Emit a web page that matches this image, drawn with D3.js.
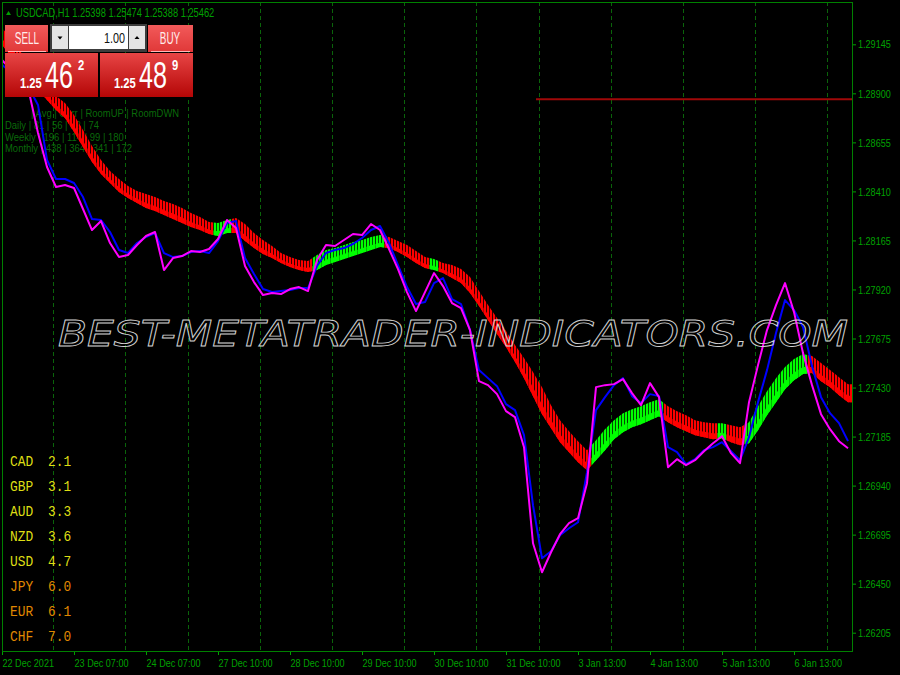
<!DOCTYPE html>
<html><head><meta charset="utf-8">
<script src="https://cdn.jsdelivr.net/npm/d3@7"></script>
<style>
html,body{margin:0;padding:0;background:#000;}
svg{display:block;}
</style></head><body>
<svg id="chart" width="900" height="675"></svg>
<script>
// ---------- DATA ----------
const headerSymbol = "USDCAD,H1";
const headerPrices = ["1.25398", "1.25474", "1.25388", "1.25462"];
const priceTicks = [1.29145, 1.28900, 1.28655, 1.28410, 1.28165, 1.27920, 1.27675, 1.27430, 1.27185, 1.26940, 1.26695, 1.26450, 1.26205];
const timeTickBars = [0, 24, 48, 72, 96, 120, 144, 168, 192, 216, 240, 264];
const timeTickLabels = ["22 Dec 2021", "23 Dec 07:00", "24 Dec 07:00", "27 Dec 10:00", "28 Dec 10:00", "29 Dec 10:00", "30 Dec 10:00", "31 Dec 10:00", "3 Jan 13:00", "4 Jan 13:00", "5 Jan 13:00", "6 Jan 13:00"];
const dayGridBars = [17, 41, 62, 86, 110, 134, 158, 179, 203, 227, 251, 275];
const totalBars = 283.33;
const sampleStep = 3; // one sample every 3 H1 bars

const magentaLine = [1.29067,1.29017,1.28967,1.28907,1.28702,1.28532,1.28432,1.28442,1.28427,1.28322,
 1.28217,1.28262,1.28152,1.28082,1.28092,1.28142,1.28187,1.28207,1.28017,1.28077,
 1.28087,1.28112,1.28107,1.28122,1.28172,1.28267,1.28227,1.28037,1.27957,1.27892,
 1.27902,1.27897,1.27922,1.27932,1.27912,1.28067,1.28142,1.28137,1.28167,1.28197,
 1.28192,1.28247,1.28217,1.28122,1.28022,1.27907,1.27812,1.27907,1.28002,1.27937,
 1.27852,1.27827,1.27717,1.27462,1.27442,1.27397,1.27312,1.27282,1.27132,1.26652,
 1.26507,1.26607,1.26697,1.26752,1.26777,1.26952,1.27432,1.27442,1.27447,1.27472,
 1.27402,1.27342,1.27452,1.27382,1.27032,1.27072,1.27042,1.27067,1.27112,1.27152,
 1.27187,1.27102,1.27052,1.27357,1.27542,1.27717,1.27842,1.27952,1.27807,1.27602,
 1.27442,1.27297,1.27222,1.27162,1.27127];

const blueLine = [1.29042,1.29007,1.28967,1.28927,1.28842,1.28567,1.28472,1.28472,1.28452,1.28382,
 1.28272,1.28267,1.28207,1.28117,1.28102,1.28152,1.28182,1.28202,1.28102,1.28082,
 1.28087,1.28107,1.28112,1.28102,1.28162,1.28252,1.28262,1.28077,1.27997,1.27922,
 1.27907,1.27912,1.27917,1.27927,1.27927,1.28037,1.28102,1.28117,1.28127,1.28147,
 1.28177,1.28217,1.28237,1.28152,1.28042,1.27932,1.27847,1.27857,1.27952,1.27977,
 1.27872,1.27847,1.27717,1.27517,1.27477,1.27437,1.27347,1.27317,1.27192,1.26842,
 1.26577,1.26612,1.26692,1.26727,1.26757,1.27007,1.27317,1.27382,1.27442,1.27477,
 1.27387,1.27352,1.27397,1.27387,1.27132,1.27107,1.27047,1.27072,1.27117,1.27132,
 1.27157,1.27112,1.27067,1.27182,1.27357,1.27517,1.27702,1.27867,1.27817,1.27732,
 1.27537,1.27382,1.27302,1.27252,1.27162];

const bandHigh = [1.29227,1.29177,1.29117,1.29057,1.28997,1.28942,1.28887,1.28852,1.28792,1.28717,
 1.28637,1.28567,1.28512,1.28472,1.28437,1.28412,1.28397,1.28382,1.28362,1.28347,
 1.28327,1.28302,1.28282,1.28257,1.28252,1.28267,1.28277,1.28247,1.28202,1.28167,
 1.28137,1.28102,1.28082,1.28067,1.28062,1.28092,1.28117,1.28127,1.28142,1.28157,
 1.28167,1.28182,1.28192,1.28182,1.28162,1.28142,1.28112,1.28082,1.28072,1.28052,
 1.28042,1.28022,1.27982,1.27912,1.27842,1.27777,1.27712,1.27642,1.27577,1.27507,
 1.27432,1.27342,1.27267,1.27212,1.27162,1.27117,1.27167,1.27222,1.27267,1.27302,
 1.27322,1.27337,1.27357,1.27372,1.27337,1.27312,1.27292,1.27267,1.27257,1.27252,
 1.27252,1.27242,1.27232,1.27257,1.27337,1.27412,1.27477,1.27532,1.27572,1.27597,
 1.27587,1.27552,1.27517,1.27482,1.27447];

const bandLow = [1.29142,1.29087,1.29027,1.28967,1.28917,1.28867,1.28817,1.28777,1.28707,1.28632,
 1.28557,1.28497,1.28452,1.28407,1.28377,1.28352,1.28327,1.28312,1.28292,1.28272,
 1.28252,1.28232,1.28217,1.28197,1.28187,1.28202,1.28202,1.28162,1.28127,1.28097,
 1.28077,1.28052,1.28032,1.28017,1.28007,1.28017,1.28042,1.28057,1.28072,1.28087,
 1.28102,1.28117,1.28132,1.28127,1.28107,1.28082,1.28052,1.28027,1.28017,1.28002,
 1.27977,1.27952,1.27902,1.27837,1.27767,1.27697,1.27632,1.27557,1.27477,1.27387,
 1.27297,1.27227,1.27157,1.27107,1.27057,1.27017,1.27067,1.27117,1.27172,1.27207,
 1.27232,1.27247,1.27267,1.27287,1.27257,1.27232,1.27212,1.27192,1.27182,1.27172,
 1.27177,1.27157,1.27142,1.27152,1.27217,1.27292,1.27357,1.27422,1.27467,1.27497,
 1.27502,1.27462,1.27432,1.27392,1.27357];

// 1 = rising (green), 0 = falling (red)
const bandRising = [0,0,0,0,0,0,0,0,0,0, 0,0,0,0,0,0,0,0,0,0, 0,0,0,0,1,1,0,0,0,0,
 0,0,0,0,0,1,1,1,1,1, 1,1,1,0,0,0,0,0,1,0, 0,0,0,0,0,0,0,0,0,0,
 0,0,0,0,0,0,1,1,1,1, 1,1,1,1,0,0,0,0,0,0, 1,0,0,1,1,1,1,1,1,1,
 0,0,0,0,0];

const levelPrice = 1.28870;
const levelStartBar = 178;

const currencies = ["CAD", "GBP", "AUD", "NZD", "USD", "JPY", "EUR", "CHF"];
const strengths = [2.1, 3.1, 3.3, 3.6, 4.7, 6.0, 6.1, 7.0];

const statsHeader = "| Avg | Curr | RoomUP | RoomDWN";
const statsPeriods = ["Daily", "Weekly", "Monthly"];
const statsValues = [[81, 56, 32, 74], [196, 114, 99, 180], [438, 364, 341, 172]];

const lotSize = "1.00";
const bidParts = ["1.25", "46", "2"];
const askParts = ["1.25", "48", "9"];
const watermark = "BEST-METATRADER-INDICATORS.COM";

// ---------- SETUP ----------
const svg = d3.select("#chart");
const W = 900, H = 675;
const pL = 2, pR = 852, pT = 2, pB = 651;
const sans = "'Liberation Sans',Arial,sans-serif";
const axisGreen = "#00a000";

// horizontally condense a text selection (simulates a narrow UI font)
function squeeze(sel, s) {
  sel.each(function () {
    const t = d3.select(this);
    const xv = +t.attr("x") || 0;
    t.attr("x", xv / s).attr("transform", `scale(${s},1)`);
  });
  return sel;
}

svg.append("rect").attr("width", W).attr("height", H).attr("fill", "#000");

const x = d3.scaleLinear().domain([0, totalBars]).range([pL, pR]);
const y = d3.scaleLinear().domain([1.26205, 1.29145]).range([632.7, 44.3]);

const defs = svg.append("defs");
defs.append("clipPath").attr("id", "plotClip").append("rect")
  .attr("x", pL).attr("y", pT).attr("width", pR - pL).attr("height", pB - pT);

function stripePattern(id, fg, bg) {
  const p = defs.append("pattern").attr("id", id).attr("patternUnits", "userSpaceOnUse")
    .attr("x", 1).attr("y", 0).attr("width", 3).attr("height", 6);
  p.append("rect").attr("width", 3).attr("height", 6).attr("fill", bg);
  p.append("rect").attr("width", 2).attr("height", 6).attr("fill", fg);
}
stripePattern("stripeRed", "#ff0000", "#3a0000");
stripePattern("stripeGreen", "#00ff00", "#005000");

function grad(id, c1, c2) {
  const g = defs.append("linearGradient").attr("id", id).attr("x1", 0).attr("y1", 0).attr("x2", 0).attr("y2", 1);
  g.append("stop").attr("offset", "0%").attr("stop-color", c1);
  g.append("stop").attr("offset", "100%").attr("stop-color", c2);
}
grad("btnGrad", "#f25a5a", "#e03838");
grad("priceGrad", "#e84545", "#b40606");

// ---------- GRID ----------
svg.append("g").selectAll("line").data(dayGridBars).join("line")
  .attr("x1", d => Math.round(x(d)) + 0.5).attr("x2", d => Math.round(x(d)) + 0.5)
  .attr("y1", pT).attr("y2", pB)
  .attr("stroke", "#0a640a").attr("stroke-width", 1).attr("stroke-dasharray", "4,3");

// ---------- STATS TEXT (under indicators) ----------
const stats = svg.append("g").attr("font-family", sans).attr("font-size", 11).attr("fill", "#0a6a0a");
squeeze(stats.append("text").attr("x", 31).attr("y", 117).text(statsHeader), 0.86);
statsPeriods.forEach((p, r) => {
  squeeze(stats.append("text").attr("x", 5).attr("y", 129 + r * 11.7)
    .text(p + " | " + statsValues[r].join(" | ")), 0.86);
});

// ---------- CURRENCY STRENGTH ----------
const cur = svg.append("g").attr("font-family", "'Liberation Mono','DejaVu Sans Mono',monospace").attr("font-size", 15);
currencies.forEach((c, i) => {
  const col = strengths[i] < 5 ? "#dede14" : "#e08800";
  squeeze(cur.append("text").attr("x", 10).attr("y", 466 + i * 25).attr("fill", col).text(c), 0.86);
  squeeze(cur.append("text").attr("x", 48).attr("y", 466 + i * 25).attr("fill", col).text(strengths[i].toFixed(1)), 0.86);
});

// ---------- PLOT ----------
const plot = svg.append("g").attr("clip-path", "url(#plotClip)");

const samples = magentaLine.map((m, k) => ({
  i: k * sampleStep, m, b: blueLine[k], hi: bandHigh[k], lo: bandLow[k], up: bandRising[k]
}));

const half = sampleStep / 2;
const bandArea = d3.area().x(d => x(d.i)).y0(d => y(d.lo)).y1(d => y(d.hi));
const solidArea = d3.area().x(d => x(d.i)).y0(d => y(d.lo)).y1(d => y(d.lo + (d.hi - d.lo) * 0.36));
const bandG = plot.append("g");
samples.forEach((s, k) => {
  const prev = samples[k - 1] || s, next = samples[k + 1] || s;
  const pts = [
    { i: s.i - half, hi: (prev.hi + s.hi) / 2, lo: (prev.lo + s.lo) / 2 },
    { i: s.i, hi: s.hi, lo: s.lo },
    { i: s.i + half, hi: (next.hi + s.hi) / 2, lo: (next.lo + s.lo) / 2 }
  ];
  bandG.append("path").attr("d", bandArea(pts))
    .attr("fill", s.up ? "url(#stripeGreen)" : "url(#stripeRed)");
  bandG.append("path").attr("d", solidArea(pts))
    .attr("fill", s.up ? "#00ff00" : "#ff0000");
});

// watermark
svg.append("text").attr("x", 58).attr("y", 346)
  .attr("font-family", "'DejaVu Sans',sans-serif").attr("font-style", "italic")
  .attr("font-size", 36).attr("textLength", 790).attr("lengthAdjust", "spacingAndGlyphs")
  .attr("fill", "none").attr("stroke", "#d0d0d0").attr("stroke-width", 0.9)
  .text(watermark);

const lineGen = key => d3.line().x(d => x(d.i)).y(d => y(d[key]));
plot.append("path").datum(samples).attr("d", lineGen("b"))
  .attr("fill", "none").attr("stroke", "#0000ff").attr("stroke-width", 2).attr("stroke-linejoin", "round");
plot.append("path").datum(samples).attr("d", lineGen("m"))
  .attr("fill", "none").attr("stroke", "#ff00ff").attr("stroke-width", 2).attr("stroke-linejoin", "round");

// horizontal level
plot.append("line").attr("x1", x(levelStartBar)).attr("x2", pR)
  .attr("y1", y(levelPrice)).attr("y2", y(levelPrice))
  .attr("stroke", "#a00808").attr("stroke-width", 2);

// ---------- AXES ----------
const yAxis = svg.append("g").attr("transform", `translate(${pR},0)`)
  .call(d3.axisRight(y).tickValues(priceTicks).tickSize(4).tickPadding(2).tickFormat(d3.format(".5f")));
yAxis.select(".domain").remove();
yAxis.selectAll("line").attr("stroke", axisGreen);
squeeze(yAxis.selectAll("text").attr("fill", axisGreen).attr("font-family", sans).attr("font-size", 11.5), 0.79);

const xAxis = svg.append("g").attr("transform", `translate(0,${pB})`)
  .call(d3.axisBottom(x).tickValues(timeTickBars).tickSize(4).tickFormat((d, i) => timeTickLabels[i]));
xAxis.select(".domain").remove();
xAxis.selectAll("line").attr("stroke", axisGreen);
squeeze(xAxis.selectAll("text").attr("fill", axisGreen).attr("font-family", sans).attr("font-size", 11.5)
  .attr("text-anchor", "start").attr("y", 16).attr("dy", 0).attr("x", 0), 0.79);

// frame
svg.append("rect").attr("x", pL + 0.5).attr("y", pT + 0.5)
  .attr("width", pR - pL).attr("height", pB - pT)
  .attr("fill", "none").attr("stroke", "#008000").attr("stroke-width", 1);

// ---------- HEADER ----------
svg.append("path").attr("d", "M6,15 L8.5,11 L11,15 Z").attr("fill", "#00a000");
squeeze(svg.append("text").attr("x", 16).attr("y", 17).attr("fill", axisGreen)
  .attr("font-family", sans).attr("font-size", 12)
  .text(headerSymbol + "  " + headerPrices.join(" ")), 0.775);

// ---------- TRADE PANEL ----------
const panel = svg.append("g");
panel.append("rect").attr("x", 5).attr("y", 25).attr("width", 43).attr("height", 27).attr("fill", "url(#btnGrad)");
panel.append("rect").attr("x", 148).attr("y", 25).attr("width", 45).attr("height", 27).attr("fill", "url(#btnGrad)");
panel.append("line").attr("x1", 8).attr("x2", 46).attr("y1", 51.5).attr("y2", 51.5).attr("stroke", "#ffb8b8");
panel.append("line").attr("x1", 151).attr("x2", 190).attr("y1", 51.5).attr("y2", 51.5).attr("stroke", "#ffb8b8");
squeeze(panel.append("text").attr("x", 27).attr("y", 44).attr("text-anchor", "middle").attr("fill", "#ffecec")
  .attr("font-family", sans).attr("font-size", 16).text("SELL"), 0.62);
squeeze(panel.append("text").attr("x", 170).attr("y", 44).attr("text-anchor", "middle").attr("fill", "#ffecec")
  .attr("font-family", sans).attr("font-size", 16).text("BUY"), 0.62);
panel.append("rect").attr("x", 50).attr("y", 24).attr("width", 97).attr("height", 28).attr("fill", "#3c3c3c");
panel.append("rect").attr("x", 52).attr("y", 26).attr("width", 16).attr("height", 23).attr("fill", "#e4e4e4");
panel.append("rect").attr("x", 69).attr("y", 26).attr("width", 59).attr("height", 23).attr("fill", "#ffffff");
panel.append("rect").attr("x", 129).attr("y", 26).attr("width", 16).attr("height", 23).attr("fill", "#e4e4e4");
panel.append("path").attr("d", "M57.5,36.5 L62.5,36.5 L60,39.5 Z").attr("fill", "#000");
panel.append("path").attr("d", "M134.5,39 L139.5,39 L137,36 Z").attr("fill", "#000");
squeeze(panel.append("text").attr("x", 125).attr("y", 43).attr("text-anchor", "end").attr("fill", "#111")
  .attr("font-family", sans).attr("font-size", 15).text(lotSize), 0.72);
panel.append("rect").attr("x", 5).attr("y", 53).attr("width", 93).attr("height", 44).attr("fill", "url(#priceGrad)");
panel.append("rect").attr("x", 100).attr("y", 53).attr("width", 93).attr("height", 44).attr("fill", "url(#priceGrad)");
function priceText(x0, parts) {
  squeeze(panel.append("text").attr("x", x0).attr("y", 88).attr("fill", "#fff").attr("font-family", sans)
    .attr("font-weight", "bold").attr("font-size", 14).text(parts[0]), 0.8);
  squeeze(panel.append("text").attr("x", x0 + 25).attr("y", 88).attr("fill", "#fff").attr("font-family", sans)
    .attr("font-size", 37).text(parts[1]), 0.68);
  squeeze(panel.append("text").attr("x", x0 + 58).attr("y", 70).attr("fill", "#fff").attr("font-family", sans)
    .attr("font-weight", "bold").attr("font-size", 15).text(parts[2]), 0.75);
}
priceText(20, bidParts);
priceText(114, askParts);
</script>
</body></html>
